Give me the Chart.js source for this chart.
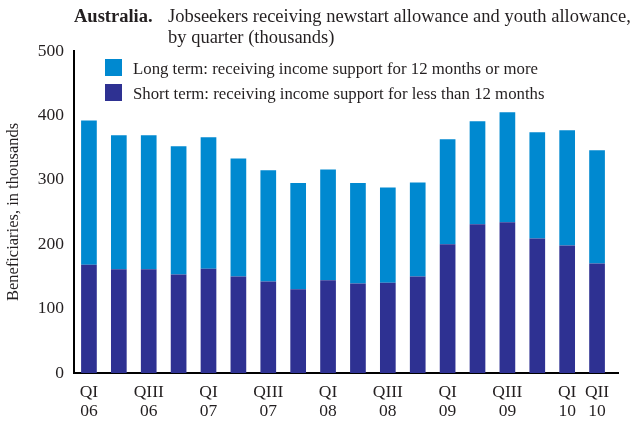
<!DOCTYPE html>
<html>
<head>
<meta charset="utf-8">
<script src="https://cdn.jsdelivr.net/npm/chart.js@4.4.1/dist/chart.umd.min.js"></script>
<style>
  html, body { margin: 0; padding: 0; background: #fff; }
  #wrap { width: 636px; height: 424px; }
</style>
</head>
<body>
<div id="wrap"><canvas id="chart" width="636" height="424"></canvas></div>
<script>
// quarters, Q1 2006 to Q2 2010
const quarters = ['QI 06', 'QII 06', 'QIII 06', 'QIV 06', 'QI 07', 'QII 07', 'QIII 07', 'QIV 07',
  'QI 08', 'QII 08', 'QIII 08', 'QIV 08', 'QI 09', 'QII 09', 'QIII 09', 'QIV 09', 'QI 10', 'QII 10'];
// only some quarters get a label under the axis
const tickLabels = [['QI', '06'], '', ['QIII', '06'], '', ['QI', '07'], '', ['QIII', '07'], '',
  ['QI', '08'], '', ['QIII', '08'], '', ['QI', '09'], '', ['QIII', '09'], '', ['QI', '10'], ['QII', '10']];
const shortTerm = [168, 161, 161, 153, 162, 150, 142, 130, 144, 139, 140, 150, 200, 231, 234, 209, 198, 170];
const longTerm = [224, 208, 208, 199, 204, 183, 173, 165, 172, 156, 148, 146, 163, 160, 171, 165, 179, 176];
const yTicks = [0, 100, 200, 300, 400, 500];

const SERIF = "'Liberation Serif', 'DejaVu Serif', serif";
const INK = '#231f20';

// title, legend and the small overhang of the x axis line
const extras = {
  id: 'extras',
  afterDraw(chart) {
    const ctx = chart.ctx;
    const area = chart.chartArea;
    ctx.save();
    ctx.strokeStyle = '#000';
    ctx.lineWidth = 2;
    ctx.beginPath();
    ctx.moveTo(area.right - 1, area.bottom);
    ctx.lineTo(619, area.bottom);
    ctx.stroke();

    ctx.fillStyle = INK;
    ctx.textBaseline = 'alphabetic';
    ctx.font = 'bold 18.5px ' + SERIF;
    ctx.fillText('Australia.', 74, 22);
    ctx.font = '18.5px ' + SERIF;
    ctx.fillText('Jobseekers receiving newstart allowance and youth allowance,', 168, 22);
    ctx.fillText('by quarter (thousands)', 168, 43);

    // legend: long term listed first
    const order = [1, 0];
    ctx.font = '16.8px ' + SERIF;
    order.forEach((di, i) => {
      const ds = chart.data.datasets[di];
      const y = 59 + i * 25;
      ctx.fillStyle = ds.backgroundColor;
      ctx.fillRect(105, y, 17, 17);
      ctx.fillStyle = INK;
      ctx.fillText(ds.label, 133, y + 15);
    });
    ctx.restore();
  }
};

const ctx = document.getElementById('chart').getContext('2d');
const chart = new Chart(ctx, {
  type: 'bar',
  data: {
    labels: quarters,
    datasets: [{
      label: 'Short term: receiving income support for less than 12 months',
      data: shortTerm,
      backgroundColor: '#2e3192'
    }, {
      label: 'Long term: receiving income support for 12 months or more',
      data: longTerm,
      backgroundColor: '#0089d0'
    }]
  },
  options: {
    responsive: false,
    animation: false,
    layout: { padding: { top: 51, right: 24, left: 0, bottom: 0 } },
    datasets: { bar: { categoryPercentage: 1, barPercentage: 0.525 } },
    plugins: {
      legend: { display: false },
      title: { display: false },
      tooltip: { enabled: false }
    },
    scales: {
      x: {
        stacked: true,
        grid: { display: false, drawTicks: false },
        border: { display: true, color: '#000', width: 2 },
        afterFit(scale) { scale.height = 51; },
        ticks: {
          autoSkip: false,
          maxRotation: 0,
          padding: 10,
          color: INK,
          font: { family: SERIF, size: 17.5, lineHeight: 1.1 },
          callback: (v, i) => tickLabels[i]
        }
      },
      y: {
        stacked: true,
        min: 0,
        max: 500,
        grid: { display: false, drawTicks: false },
        border: { display: true, color: '#000', width: 2 },
        afterFit(scale) { scale.width = 74; },
        afterBuildTicks(scale) { scale.ticks = yTicks.map(v => ({ value: v })); },
        ticks: {
          padding: 10,
          color: INK,
          font: { family: SERIF, size: 17.5 }
        },
        title: {
          display: true,
          text: 'Beneficiaries, in thousands',
          color: INK,
          padding: { top: 4, bottom: 0 },
          font: { family: SERIF, size: 16.5 }
        }
      }
    }
  },
  plugins: [extras]
});
</script>
</body>
</html>
